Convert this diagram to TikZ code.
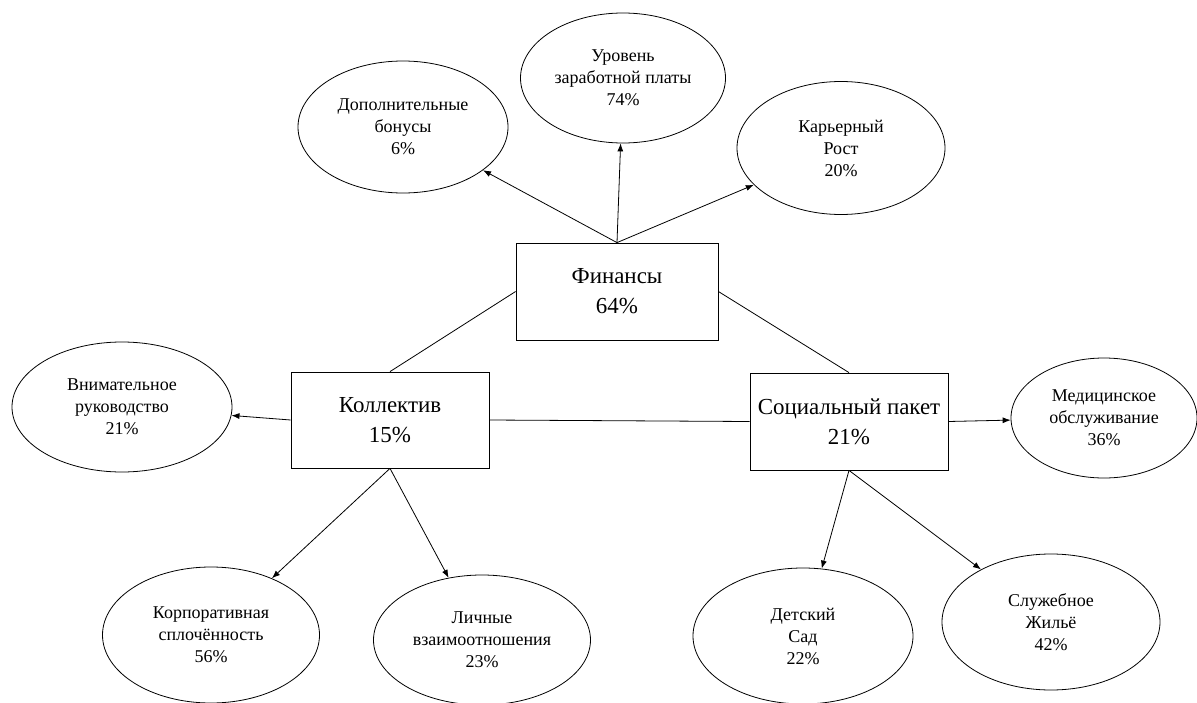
\documentclass[tikz,border=0pt]{standalone}
\usepackage{fontspec}
\setmainfont{Liberation Serif}
\usepackage{tikz}
\usetikzlibrary{shapes.geometric}
\usetikzlibrary{arrows.meta}

\begin{document}
\begin{tikzpicture}[
	x=0.75pt,
	y=-0.75pt,
	line width=0.6pt
]
\tikzset{
    mybox/.style = {rectangle, draw=black, align=center, inner sep=0pt, font=\fontsize{17.2}{22.5}\selectfont},
    myell/.style = {ellipse, draw=black, align=center, inner sep=0pt, font=\fontsize{13.5}{16.5}\selectfont},
    edgen/.style = {-},
    edgea/.style = {-{Latex[length=6pt,width=4.5pt]}},
}
\useasboundingbox (0,0) rectangle (1197,703);
\node[mybox, minimum width=151.5pt, minimum height=72.75pt] at (617,291.5) (fin) {Финансы\\64\%};
\node[mybox, minimum width=148.5pt, minimum height=72pt] at (390,420) (koll) {Коллектив\\15\%};
\node[mybox, minimum width=148.5pt, minimum height=72.75pt] at (849,421.5) (soc) {Социальный пакет\\21\%};
%
\node[myell, minimum width=157.5pt, minimum height=99pt] at (403,127) (bonus) {Дополнительные\\бонусы\\6\%};
\node[myell, minimum width=153.75pt, minimum height=97.5pt] at (623,78) (salary) {Уровень\\заработной платы\\74\%};
\node[myell, minimum width=156pt, minimum height=99.75pt] at (841,148) (career) {Карьерный\\Рост\\20\%};
\node[myell, minimum width=165pt, minimum height=97.5pt] at (122,407) (attent) {Внимательное\\руководство\\21\%};
\node[myell, minimum width=139.5pt, minimum height=90pt] at (1104,418) (med) {Медицинское\\обслуживание\\36\%};
\node[myell, minimum width=162.75pt, minimum height=102pt] at (211,635) (corp) {Корпоративная\\сплочённость\\56\%};
\node[myell, minimum width=162.75pt, minimum height=97.5pt] at (482,640) (pers) {Личные\\взаимоотношения\\23\%};
\node[myell, minimum width=165pt, minimum height=102pt] at (803,636) (kinder) {Детский\\Сад\\22\%};
\node[myell, minimum width=163.5pt, minimum height=102pt] at (1051,622) (house) {Служебное\\Жильё\\42\%};
%
\draw[edgea] (fin.north) -- (bonus);
\draw[edgea] (fin.north) -- (salary);
\draw[edgea] (fin.north) -- (career);
%
\draw[edgen] (fin.west) -- (koll.north);
\draw[edgen] (fin.east) -- (soc.north);
\draw[edgen] (koll.east) -- (soc.west);
%
\draw[edgea] (koll.west) -- (attent);
\draw[edgea] (koll.south) -- (corp);
\draw[edgea] (koll.south) -- (pers);
%
\draw[edgea] (soc.east) -- (med);
\draw[edgea] (soc.south) -- (kinder);
\draw[edgea] (soc.south) -- (house);
\end{tikzpicture}
\end{document}
